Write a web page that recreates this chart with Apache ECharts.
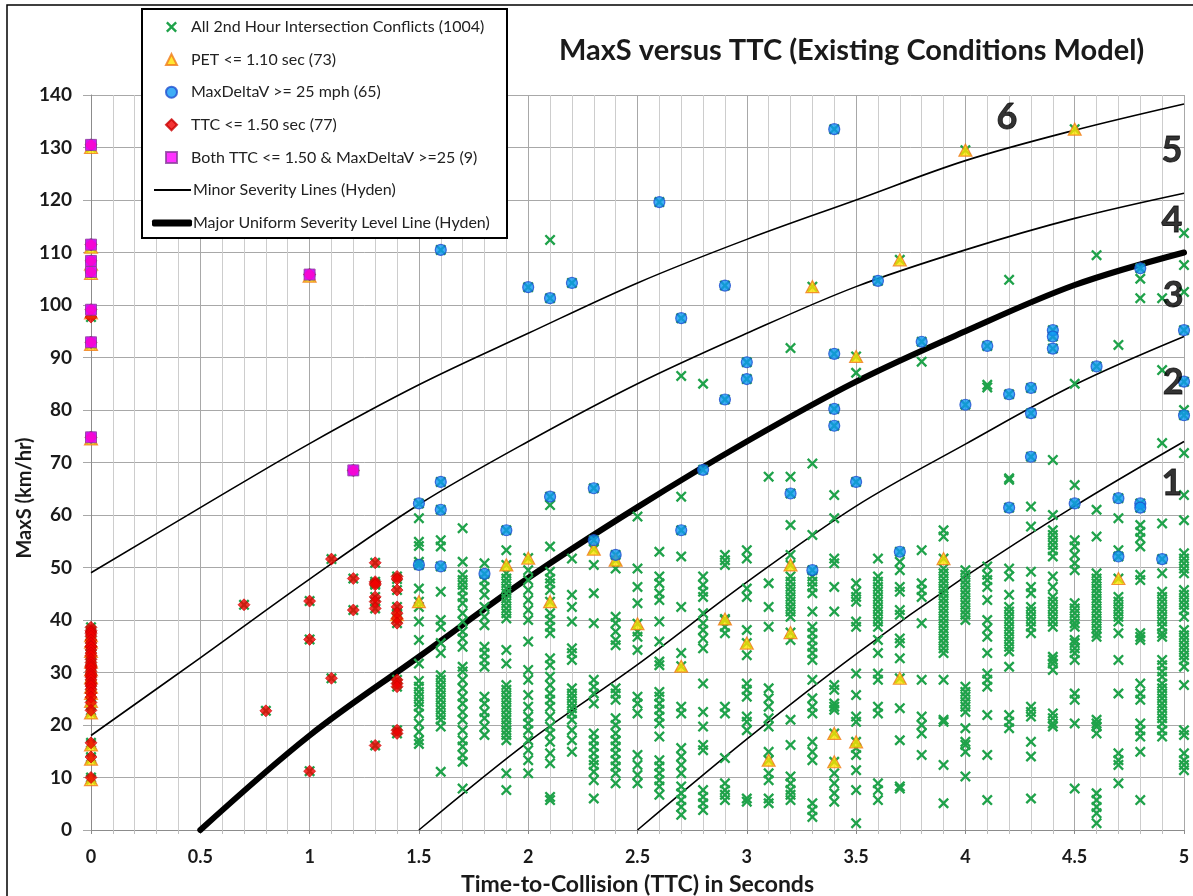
<!DOCTYPE html>
<html>
<head>
<meta charset="utf-8">
<script src="https://cdn.jsdelivr.net/npm/echarts@6/dist/echarts.min.js"></script>
<style>
  html, body { margin: 0; padding: 0; background: #fff; }
  #chart { width: 1193px; height: 896px; }
</style>
</head>
<body>
<div id="chart"></div>
<script>
// TTC columns (s) for the green "all conflicts" crosses, and the MaxS values read in each column
const allTTC = [1.5, 1.6, 1.7, 1.8, 1.9, 2.0, 2.1, 2.2, 2.3, 2.4, 2.5, 2.6, 2.7, 2.8, 2.9, 3.0, 3.1, 3.2,
  3.3, 3.4, 3.5, 3.6, 3.7, 3.8, 3.9, 4.0, 4.1, 4.2, 4.3, 4.4, 4.5, 4.6, 4.7, 4.8, 4.9, 5.0]
const allMaxS = [
  [59.4, 54.9, 54.1, 51.1, 46, 42.5, 39.7, 36.2, 31.7, 28.4, 27.3, 26.3, 25.4, 24.4, 23.5, 22.2, 20.3, 18.7, 17.1, 16.4],
  [55.2, 54, 45.4, 40, 38.7, 35.6, 33.7, 29.5, 28.6, 27.6, 26.7, 25.7, 24.8, 23.8, 22.9, 21.9, 21, 19.7, 11.1],
  [57.5, 51.1, 48.6, 47.6, 46.7, 45.7, 44.4, 43.2, 41.3, 39.7, 37.8, 36.5, 34.9, 31.1, 30.2, 28.6, 27, 25.4, 24.1, 22.5, 21, 19, 17.1, 15.9, 14.3, 13, 7.9],
  [50.8, 47.6, 46.3, 44.8, 42.5, 40.6, 39, 34.9, 33.7, 32.4, 31.1, 25.4, 24.1, 22.5, 21.3, 19.7, 18.1],
  [53.3, 48.9, 47.9, 47, 46, 45.1, 44.1, 43.2, 42.2, 41.3, 40.3, 34.3, 31.7, 27.6, 26.7, 25.7, 24.8, 23.8, 22.9, 21.9, 21, 20, 19, 18.1, 17.1, 10.8, 7.6],
  [49.5, 47.6, 45.7, 43.8, 41.9, 40, 35.9, 30.5, 28.6, 25.7, 23.5, 21.6, 20.3, 19, 17.1, 15.2, 13.3, 10.8],
  [112.4, 61.9, 54, 49.2, 47.9, 47, 45.7, 41.3, 40, 38.7, 37.5, 32.7, 31.4, 29.2, 27.6, 26, 24.8, 23.5, 21.6, 19.7, 18.4, 16.8, 14.6, 12.7, 6.3, 5.7],
  [51.7, 44.8, 42.5, 39.7, 34.6, 33.7, 32.4, 27, 26, 25.1, 24.1, 23.2, 22.2, 21, 19, 17.1, 14.9],
  [50.5, 45.1, 39.4, 28.6, 27.3, 26, 24.1, 18.4, 17.1, 15.9, 14.6, 13.3, 12.4, 11.1, 9.5, 6],
  [49.8, 40.6, 39.4, 37.8, 36.2, 35.2, 27, 26, 24.8, 21.3, 20, 18.4, 17.1, 15.9, 14.6, 13.3, 12.1, 10.8, 8.9],
  [59.7, 49.8, 46.3, 43.2, 37.8, 36.8, 34.3, 25.4, 24.1, 22.2, 14.3, 12.4, 10.5, 8.9],
  [53, 48.3, 47, 45.1, 43.8, 39.7, 35.9, 32.1, 31.4, 26.3, 25.4, 24.1, 22.9, 21.6, 20.3, 17.8, 13.3, 12.1, 10.8, 9.5, 8.3, 6.7],
  [86.5, 63.5, 52.1, 42.5, 33.7, 23.5, 22.2, 15.6, 14, 12.4, 10.8, 8.3, 7, 5.7, 4.4, 2.9],
  [85, 48.3, 46.7, 45.4, 44.4, 41.3, 39.4, 38.1, 36.5, 34.6, 27.9, 22.5, 19.7, 16.2, 15.2, 7.6, 6.3, 5.1, 3.8],
  [52.4, 51.4, 50.5, 40, 38.7, 37.5, 23.5, 22.2, 13.7, 8.9, 7.6, 6.7, 5.7],
  [53.3, 51.7, 46, 44.4, 38.1, 33.3, 27.9, 26.7, 25.4, 21.6, 20.6, 19, 6, 5.4],
  [67.3, 47, 42.5, 38.7, 27, 25.1, 23.5, 21.3, 19.7, 14.9, 10.8, 9.5, 6, 5.1],
  [91.8, 67.3, 58.1, 52.4, 48.3, 47.3, 46.3, 45.4, 44.4, 43.5, 42.5, 41.6, 40.6, 36.2, 21, 16.2, 10.2, 8.9, 7.6, 6.7, 5.7],
  [69.8, 56.2, 48.3, 47.3, 46.3, 45.1, 41.6, 38.7, 37.5, 36.2, 34.9, 33.7, 32.4, 28.6, 25.1, 23.5, 22.2, 16.8, 14.9, 13.3, 5.1, 3.8, 2.5],
  [63.8, 59.4, 51.7, 50.8, 46.3, 41.6, 27.6, 26.7, 24.1, 23.5, 22.9, 10.8, 8.9, 7, 5.4],
  [87.1, 47, 45.4, 44.4, 43.5, 39.7, 38.7, 29.8, 25.7, 21.6, 20.6, 15.6, 14.3, 11.4, 7.6, 1.3],
  [51.7, 48.3, 47.3, 46.3, 45.4, 44.4, 43.5, 42.5, 41.6, 40.6, 39.7, 38.7, 36.2, 33.7, 29.8, 28.6, 23.5, 22.2, 8.9, 7.6, 5.7],
  [51.1, 49.5, 46.3, 45.4, 41.9, 41, 36.5, 35.6, 32.7, 23.2, 17.1, 8.3, 7.9],
  [89.2, 53.3, 47, 45.7, 44.4, 39.4, 28.6, 21.6, 20, 18.4, 14.3],
  [57.1, 55.9, 49.8, 48.9, 47.9, 47, 46, 45.1, 44.1, 43.2, 42.2, 41.3, 40.3, 39.4, 38.4, 37.5, 36.5, 35.6, 34.6, 33.7, 28.6, 21, 20.6, 12.4, 5.1],
  [49.5, 48.6, 47.6, 46.7, 45.7, 44.8, 43.8, 42.9, 41.9, 41, 40, 27.3, 26.3, 25.4, 24.4, 23.5, 22.5, 19.4, 16.8, 16.2, 14.9, 10.2],
  [84.8, 84.3, 50.2, 48.6, 47.6, 46.3, 43.8, 40, 38.4, 36.8, 33.7, 29.8, 28.6, 27.3, 21.9, 14.3, 5.7],
  [104.8, 67, 66.7, 49.8, 48.3, 44.8, 42.5, 41.6, 40.6, 39.7, 38.7, 37.8, 36.8, 35.9, 34.9, 34, 31.1, 21.9, 20.6, 19.4],
  [61.6, 57.8, 49.2, 46.3, 45.1, 42.5, 41.6, 40.6, 39.7, 38.7, 37.5, 23.5, 22.5, 21.6, 16.8, 14, 6],
  [70.5, 60, 57.1, 56.2, 55.2, 54.3, 53.3, 52.1, 48.3, 46.3, 44.4, 43.5, 42.5, 41.6, 40.6, 39.7, 38.7, 33, 32.4, 31.7, 30.5, 22.2, 21.3, 20.3, 19.7],
  [85, 65.7, 55.2, 54, 52.4, 50.8, 49.5, 43.2, 42.2, 41.3, 40.3, 39.4, 38.7, 36.2, 35.6, 34.6, 33.7, 32.4, 26, 24.8, 20.3, 7.9],
  [109.5, 61, 55.9, 48.9, 47.9, 47, 46, 45.1, 44.1, 43.2, 42.2, 41.3, 40.3, 39.4, 38.4, 37.5, 36.8, 21, 20.3, 19.7, 18.4, 7, 5.7, 4.4, 3.2, 1.3],
  [92.4, 59.4, 53.3, 44.4, 43.5, 42.5, 41.6, 40.6, 39.7, 37.5, 32.4, 26, 14.6, 13.3, 12.4, 8.9],
  [105, 101.3, 58.1, 56.8, 55.6, 54, 48.6, 47.6, 37.5, 36.8, 36.2, 27.9, 26, 24.8, 20.3, 19, 17.8, 14.9, 5.7],
  [101.3, 87.6, 73.7, 58.4, 48.9, 45.4, 44.4, 43.5, 42.5, 41.6, 40.6, 39.7, 38.7, 37.5, 36.8, 32.4, 31.4, 30.2, 29.2, 27.9, 27, 26, 25.1, 24.1, 23.2, 22.2, 21.3, 20.3, 19, 17.8],
  [113.7, 107.6, 102.5, 80, 71.8, 63.8, 59, 52.7, 51.7, 50.8, 49.8, 48.9, 45.7, 44.8, 43.8, 42.9, 41.9, 40.6, 38.1, 37.1, 36.2, 35.2, 34.3, 33.3, 32.4, 31.1, 27.6, 19, 18.1, 14.6, 13.3, 12.4, 11.4]
]

// [TTC, MaxS] pairs
const petPoints = [
  [0, 9.6], [0, 13.5], [0, 16.2], [0, 22.3], [0, 24.5], [0, 26], [0, 27.2], [0, 29], [0, 30.5], [0, 32], [0, 34],
  [0, 35.8], [0, 37], [0, 130], [0, 111], [0, 107.8], [0, 106], [0, 98.5], [0, 92.5], [0, 74.5], [1.0, 105.5], [1.4, 41],
  [1.5, 43.5], [1.9, 50.5], [2.0, 51.8], [2.1, 43.5], [2.3, 53.5], [2.4, 51.4], [2.5, 39.3], [2.7, 31.2], [2.9, 40.2],
  [3.0, 35.6], [3.1, 13.3], [3.2, 50.5], [3.2, 37.6], [3.3, 103.5], [3.4, 18.4], [3.4, 13], [3.5, 90.2], [3.5, 16.8],
  [3.7, 108.6], [3.7, 28.9], [3.9, 51.7], [4.0, 129.5], [4.5, 133.5], [4.7, 47.9]
]
const deltaVPoints = [
  [0, 130.5], [0, 111.5], [0, 108.4], [0, 106.3], [0, 99.1], [0, 92.9], [0, 74.8], [1.0, 105.8], [1.2, 68.5],
  [1.5, 62.2], [1.5, 50.5], [1.6, 110.5], [1.6, 66.3], [1.6, 61], [1.6, 50.2], [1.8, 48.8], [1.9, 57.1], [2.0, 103.4],
  [2.1, 101.3], [2.1, 63.5], [2.2, 104.2], [2.3, 65.1], [2.3, 55.2], [2.4, 52.4], [2.6, 119.6], [2.7, 97.5], [2.7, 57.1],
  [2.8, 68.6], [2.9, 103.7], [2.9, 82], [3.0, 89.1], [3.0, 85.9], [3.2, 64.1], [3.3, 49.5], [3.4, 133.5], [3.4, 90.7],
  [3.4, 80.2], [3.4, 77], [3.5, 66.3], [3.6, 104.6], [3.7, 53], [3.8, 93], [4.0, 81], [4.1, 92.2], [4.2, 83], [4.2, 61.4],
  [4.3, 84.2], [4.3, 79.4], [4.3, 71.1], [4.4, 95.2], [4.4, 94], [4.4, 91.7], [4.5, 62.2], [4.6, 88.3], [4.7, 63.2],
  [4.7, 52.1], [4.8, 107], [4.8, 62.2], [4.8, 61.4], [4.9, 51.6], [5.0, 95.2], [5.0, 85.4], [5.0, 79]
]
const ttcPoints = [
  [0, 38.6], [0, 38], [0, 37.7], [0, 37.4], [0, 36.9], [0, 36.2], [0, 35.6], [0, 35], [0, 34.9], [0, 34.3], [0, 33.7],
  [0, 33.2], [0, 32.5], [0, 31.9], [0, 31.4], [0, 31.1], [0, 30.8], [0, 30.2], [0, 29.7], [0, 29.4], [0, 29.1], [0, 28.6],
  [0, 28], [0, 27.7], [0, 27.4], [0, 26.8], [0, 26.1], [0, 25.3], [0, 24.3], [0, 22.8], [0, 16.6], [0, 13.9], [0, 10],
  [0, 97.7], [0, 130.5], [0, 111.5], [0, 108.4], [0, 106.3], [0, 99.1], [0, 92.9], [0, 74.8],
  [0.7, 42.9], [0.8, 22.7], [1.0, 43.6], [1.0, 36.3], [1.0, 11.2], [1.0, 105.8], [1.1, 51.6], [1.1, 28.9],
  [1.2, 47.9], [1.2, 41.9], [1.2, 68.5], [1.3, 50.9], [1.3, 47.3], [1.3, 47], [1.3, 46.7], [1.3, 44.4], [1.3, 43.5],
  [1.3, 42.2], [1.3, 16.1], [1.4, 48.3], [1.4, 47.8], [1.4, 45.7], [1.4, 42.5], [1.4, 41.3], [1.4, 40.3], [1.4, 39.4],
  [1.4, 28.6], [1.4, 27.9], [1.4, 27.3], [1.4, 19], [1.4, 18.4]
]
const bothPoints = [
  [0, 130.5], [0, 111.5], [0, 108.4], [0, 106.3], [0, 99.1], [0, 92.9], [0, 74.8], [1.0, 105.8], [1.2, 68.5]
]

// Hyden severity curves
const majorLine = [[0.5, 0], [1, 18], [1.5, 33], [2, 48], [2.5, 61.5], [3, 74], [3.5, 85.4], [4, 95], [4.5, 103.8], [5, 110]]
const minorLines = [
  [[0, 49], [0.5, 61.4], [1, 73.6], [1.5, 84.8], [2, 94.6], [2.5, 104.2], [3, 112.5], [3.5, 120], [4, 127.5], [4.5, 133.3], [5, 138.3]],
  [[0, 18], [0.5, 32.8], [1, 47.8], [1.5, 62], [2, 74], [2.5, 85], [3, 94.6], [3.5, 103.5], [4, 110.5], [4.5, 116.5], [5, 121.3]],
  [[1.5, 0], [2, 16.8], [2.5, 31.5], [3, 47.2], [3.5, 61.7], [4, 73.5], [4.5, 84.8], [5, 94]],
  [[2.5, 0], [3, 17.3], [3.5, 33.5], [4, 48.3], [4.5, 61.7], [5, 74]]
]
// severity zone numbers
const zoneLabels = [['6', 4.19, 135.8], ['5', 4.945, 129.5], ['4', 4.945, 116.2], ['3', 4.95, 101.9], ['2', 4.95, 85.3], ['1', 4.945, 66.1]]

const xTicks = [0, 5, 0.5]
const yTicks = [0, 140, 10]

const ALL = 'All 2nd Hour Intersection Conflicts (1004)'
const PET = 'PET <= 1.10 sec (73)'
const DV = 'MaxDeltaV >= 25 mph (65)'
const TTC = 'TTC <= 1.50 sec (77)'
const BOTH = 'Both TTC <= 1.50 & MaxDeltaV >=25 (9)'
const MINOR = 'Minor Severity Lines (Hyden)'
const MAJOR = 'Major Uniform Severity Level Line (Hyden)'

const FONT = 'Lato'
const crossPath = 'path://M1.5,0L5,3.5L8.5,0L10,1.5L6.5,5L10,8.5L8.5,10L5,6.5L1.5,10L0,8.5L3.5,5L0,1.5Z'

const allPoints = []
allTTC.forEach((t, i) => allMaxS[i].forEach(v => allPoints.push([t, v])))
// every flagged conflict is also one of the 1004
const allData = allPoints.concat(petPoints, deltaVPoints, ttcPoints)

const chart = echarts.init(document.getElementById('chart'))

const minorSeries = minorLines.map(d => ({
  name: MINOR,
  type: 'line',
  data: d,
  color: '#000',
  smooth: 0.35,
  symbol: 'none',
  lineStyle: { color: '#000', width: 1.6 },
  z: 3
}))

const legendText = { fontFamily: FONT, fontSize: 16, color: '#222', lineHeight: 14 }

const option = {
  animation: false,
  backgroundColor: '#fff',
  textStyle: { fontFamily: FONT },
  title: {
    text: 'MaxS versus TTC (Existing Conditions Model)',
    left: 554,
    top: 31,
    textStyle: { fontFamily: FONT, fontWeight: 'bold', fontSize: 29, color: '#1a1a1a' }
  },
  grid: { left: 91, right: 9, top: 95, bottom: 66, outerBoundsMode: 'none' },
  legend: [
    {
      data: [ALL, PET, DV, TTC, BOTH],
      orient: 'vertical',
      left: 160,
      top: 14,
      itemWidth: 11,
      itemHeight: 11,
      itemGap: 16.6,
      textStyle: Object.assign({}, legendText, { padding: [0, 0, 0, 9] }),
      z: 10
    },
    {
      data: [{ name: MINOR, icon: 'rect' }],
      left: 149,
      top: 177,
      itemWidth: 37,
      itemHeight: 2,
      textStyle: Object.assign({}, legendText, { padding: [0, 0, 0, -3] }),
      z: 10
    },
    {
      data: [{ name: MAJOR, icon: 'roundRect' }],
      left: 147,
      top: 210,
      itemWidth: 40,
      itemHeight: 7,
      textStyle: Object.assign({}, legendText, { padding: [0, 0, 0, -4] }),
      z: 10
    }
  ],
  xAxis: {
    type: 'value',
    min: xTicks[0],
    max: xTicks[1],
    interval: xTicks[2],
    name: 'Time-to-Collision (TTC) in Seconds',
    nameLocation: 'middle',
    nameGap: 43,
    nameTextStyle: { fontFamily: FONT, fontWeight: 'bold', fontSize: 23, color: '#1a1a1a' },
    axisLine: { show: true, lineStyle: { color: '#8c8c8c', width: 1 } },
    axisTick: { show: true, length: 4, lineStyle: { color: '#8c8c8c' } },
    minorTick: { show: true, splitNumber: 5, length: 4, lineStyle: { color: '#bdbdbd' } },
    axisLabel: { margin: 18, fontFamily: FONT, fontWeight: 'bold', fontSize: 18, color: '#1a1a1a' },
    splitLine: { show: true, lineStyle: { color: '#a8a8a8', width: 1 } },
    minorSplitLine: { show: true, lineStyle: { color: '#cdcdcd', width: 1 } }
  },
  yAxis: {
    type: 'value',
    min: yTicks[0],
    max: yTicks[1],
    interval: yTicks[2],
    axisLine: { show: true, lineStyle: { color: '#8c8c8c', width: 1 } },
    axisTick: { show: true, length: 8, lineStyle: { color: '#a8a8a8' } },
    axisLabel: { margin: 19, fontFamily: FONT, fontWeight: 'bold', fontSize: 19, color: '#1a1a1a' },
    splitLine: { show: true, lineStyle: { color: '#a8a8a8', width: 1 } }
  },
  graphic: [
    {
      type: 'rect',
      shape: { x: 7, y: 5, width: 1200, height: 1000 },
      style: { fill: 'none', stroke: '#000', lineWidth: 1.5 },
      z: 0,
      silent: true
    },
    {
      type: 'rect',
      shape: { x: 142, y: 9, width: 365, height: 229 },
      style: { fill: '#fff', stroke: '#000', lineWidth: 2 },
      z: 5,
      silent: true
    },
    {
      // y-axis title
      type: 'text',
      x: 25,
      y: 498,
      rotation: Math.PI / 2,
      style: {
        text: 'MaxS (km/hr)',
        font: 'bold 20px Lato',
        fill: '#1a1a1a',
        textAlign: 'center',
        textVerticalAlign: 'middle'
      },
      silent: true
    }
  ],
  series: [
    ...minorSeries,
    {
      name: MAJOR,
      type: 'line',
      data: majorLine,
      color: '#000',
      smooth: 0.35,
      symbol: 'none',
      lineStyle: { color: '#000', width: 6, cap: 'round' },
      z: 3
    },
    {
      name: ALL,
      type: 'scatter',
      data: allData,
      symbol: crossPath,
      symbolSize: 11,
      itemStyle: { color: '#1fa24a', opacity: 1 },
      z: 4
    },
    {
      name: PET,
      type: 'scatter',
      data: petPoints,
      symbol: 'triangle',
      symbolSize: [13, 12],
      itemStyle: { color: '#ffe100', borderColor: '#f07a1a', borderWidth: 1.2 },
      z: 4
    },
    {
      name: DV,
      type: 'scatter',
      data: deltaVPoints,
      symbol: 'circle',
      symbolSize: 11,
      itemStyle: { color: '#0f98f4', borderColor: '#1f4fd0', borderWidth: 1.2 },
      z: 4
    },
    {
      name: TTC,
      type: 'scatter',
      data: ttcPoints,
      symbol: 'diamond',
      symbolSize: 12,
      itemStyle: { color: '#f00000', borderColor: '#c80000', borderWidth: 0.8 },
      z: 4
    },
    {
      name: BOTH,
      type: 'scatter',
      data: bothPoints,
      symbol: 'rect',
      symbolSize: 11,
      itemStyle: { color: '#ff00ff', borderColor: '#8a3c9c', borderWidth: 1 },
      z: 4
    },
    {
      name: 'zones',
      type: 'scatter',
      data: zoneLabels.map(z => ({ name: z[0], value: [z[1], z[2]] })),
      symbolSize: 0,
      silent: true,
      label: {
        show: true,
        position: 'inside',
        formatter: p => p.name,
        fontFamily: FONT,
        fontWeight: 'bold',
        fontSize: 36,
        color: '#000',
        textBorderColor: '#000',
        textBorderWidth: 0.8
      },
      z: 6
    }
  ]
}

chart.setOption(option)
</script>
</body>
</html>
